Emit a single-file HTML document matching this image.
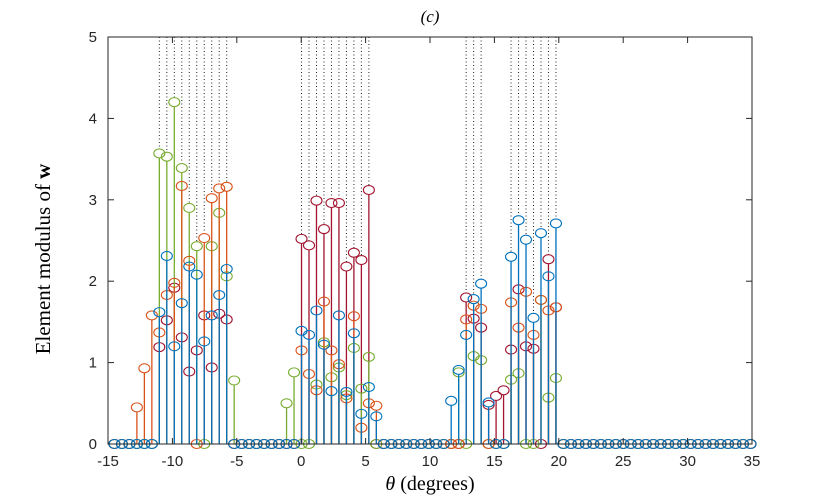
<!DOCTYPE html>
<html><head><meta charset="utf-8"><style>
body{margin:0;background:#fff;width:830px;height:498px;overflow:hidden}
svg{display:block}
</style></head><body>
<svg id="chart" width="830" height="498" viewBox="0 0 830 498" xmlns="http://www.w3.org/2000/svg">
<g id="dots"></g>
<g id="marks"></g>
<g id="axes"></g>
<text x="430" y="22" font-family="Liberation Serif, serif" font-size="17" font-style="italic" text-anchor="middle">(c)</text>
<text x="430" y="490" font-family="Liberation Serif, serif" font-size="20" text-anchor="middle"><tspan font-style="italic">θ</tspan> (degrees)</text>
<text transform="translate(50,259) rotate(-90)" font-family="Liberation Serif, serif" font-size="21" text-anchor="middle">Element modulus of <tspan font-weight="bold">w</tspan></text>
</svg>
<script>
// data: index of grid point -> value (non-listed indices are zero)
const N = 86;
const thetaStart = -14.5, thetaStep = 0.581;
const blueIdx  = [6,7,8,9,10,11,12,13,14,15,25,26,27,28,29,30,31,32,33,34,35,45,46,47,48,49,50,53,54,55,56,57,58,59];
const blueVal  = [1.62,2.31,1.2,1.73,2.18,2.08,1.26,1.58,1.83,2.15,1.39,1.34,1.64,1.22,0.65,1.58,0.64,1.36,0.37,0.7,0.34,0.53,0.91,1.34,1.78,1.97,0.51,2.3,2.75,2.51,1.55,2.59,2.06,2.71];
const orangeIdx= [3,4,5,6,7,8,9,10,12,13,14,15,25,26,27,28,29,30,31,32,33,34,35,47,48,49,53,54,55,56,57,58,59];
const orangeVal= [0.45,0.93,1.58,1.37,1.83,1.98,3.17,2.25,2.53,3.02,3.14,3.16,1.15,0.86,0.66,1.75,1.15,0.98,0.56,1.57,0.2,0.5,0.47,1.53,1.7,1.66,1.74,1.43,1.87,1.34,1.77,1.64,1.68];
const greenIdx = [6,7,8,9,10,11,13,14,15,16,23,24,27,28,29,30,31,32,33,34,46,48,49,53,54,57,58,59];
const greenVal = [3.57,3.53,4.2,3.39,2.9,2.43,2.43,2.84,2.06,0.78,0.5,0.88,0.73,1.25,0.82,0.94,0.6,1.18,0.68,1.07,0.88,1.08,1.03,0.79,0.87,1.77,0.57,0.81];
const redIdx   = [6,7,8,9,10,11,12,13,14,15,25,26,27,28,29,30,31,32,33,34,47,48,49,50,51,52,53,54,55,56,58,59];
const redVal   = [1.19,1.52,1.92,1.31,0.89,1.15,1.58,0.94,1.6,1.53,2.52,2.44,2.99,2.64,2.96,2.96,2.18,2.35,2.26,3.12,1.8,1.54,1.43,0.48,0.59,0.66,1.16,1.9,1.2,1.17,2.27,1.68];
const guideIdx = [6,7,8,9,10,11,12,13,14,15,25,26,27,28,29,30,31,32,33,34,47,48,49,53,54,55,56,57,58,59];
const xTicks = [-15,-10,-5,0,5,10,15,20,25,30,35];
const yTicks = [0,1,2,3,4,5];

const NS="http://www.w3.org/2000/svg";
const L=108,R=752,T=37,B=444;
const xs=t=>L+(t+15)*(R-L)/50;
const ys=v=>B-v*(B-T)/5;
const theta=i=>thetaStart+i*thetaStep;
function mk(tag,attrs,parent){const e=document.createElementNS(NS,tag);for(const k in attrs)e.setAttribute(k,attrs[k]);parent.appendChild(e);return e;}
function full(idx,val){const a=new Array(N).fill(0);idx.forEach((j,k)=>a[j]=val[k]);return a;}
const series=[
 {name:'red',color:'#A2142F',v:full(redIdx,redVal)},
 {name:'green',color:'#77AC30',v:full(greenIdx,greenVal)},
 {name:'orange',color:'#D95319',v:full(orangeIdx,orangeVal)},
 {name:'blue',color:'#0072BD',v:full(blueIdx,blueVal)}
];
const dots=document.getElementById('dots');
guideIdx.forEach(i=>{
 let m=0;series.forEach(s=>{if(s.v[i]>m)m=s.v[i];});
 const l=mk('line',{x1:xs(theta(i)),x2:xs(theta(i)),y1:T,y2:ys(m)-4,stroke:'#222','stroke-width':1,'stroke-dasharray':'1,2.5'},dots);
 
 
});
const marks=document.getElementById('marks');
series.forEach(s=>{
 const g=mk('g',{},marks);
 
 
 s.v.forEach((v,i)=>{
  const x=xs(theta(i)),y=ys(v);
  if(v>0){
   const st=mk('line',{x1:x,x2:x,y1:B,y2:y+4.5,stroke:s.color,'stroke-width':1.3},g);
   
   
  }
  const c=mk('ellipse',{cx:x,cy:y,rx:5.5,ry:4.5,fill:'none',stroke:s.color,'stroke-width':1.1},g);
  
  
 });
});
const ax=document.getElementById('axes');
mk('rect',{x:L,y:T,width:R-L,height:B-T,fill:'none',stroke:'#262626','stroke-width':1},ax);
xTicks.forEach(t=>{
 const x=xs(t);
 mk('line',{x1:x,x2:x,y1:B,y2:B-6,stroke:'#262626'},ax);
 mk('line',{x1:x,x2:x,y1:T,y2:T+6,stroke:'#262626'},ax);
 const tx=mk('text',{x:x,y:B+22,'font-family':'Liberation Sans, sans-serif','font-size':15,'text-anchor':'middle',fill:'#262626'},ax);
 tx.textContent=t;
 
 
});
yTicks.forEach(v=>{
 const y=ys(v);
 mk('line',{x1:L,x2:L+6,y1:y,y2:y,stroke:'#262626'},ax);
 mk('line',{x1:R,x2:R-6,y1:y,y2:y,stroke:'#262626'},ax);
 const tx=mk('text',{x:L-11,y:y+5,'font-family':'Liberation Sans, sans-serif','font-size':15,'text-anchor':'end',fill:'#262626'},ax);
 tx.textContent=v;
 
 
});
</script>
</body></html>
